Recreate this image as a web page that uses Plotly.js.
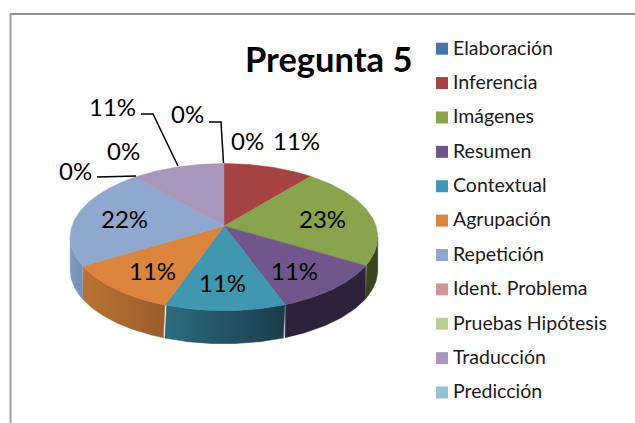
<!DOCTYPE html>
<html><head><meta charset="utf-8">
<script src="https://cdn.plot.ly/plotly-3.0.1.min.js"></script>
<style>html,body{margin:0;padding:0;background:#fff}#c{width:635px;height:423px}</style>
</head><body><div id="c"></div>
<script>
// ---- data ----
const categories = ["Elaboración","Inferencia","Imágenes","Resumen","Contextual","Agrupación","Repetición","Ident. Problema","Pruebas Hipótesis","Traducción","Predicción"];
const values = [0,11,22.5,10.9,11,11,22.3,0,0,11.3,0];
const topColors = ["#4674A8","#A54342","#88A44C","#71568C","#4197AF","#DA843D","#90A7CE","#CF9695","#B9CD96","#A897BA","#92C3D5"];
const sideFrom = ["#2f4d70","#6e2c2b","#37451c","#2d2239","#2d6c80","#ba7332","#8098c0","#8a6463","#7b8964","#706480","#618290"];
const sideTo   = ["#2f4d70","#6e2c2b","#37451c","#2d2239","#1a3c48","#9c5d2b","#788eb3","#8a6463","#7b8964","#706480","#618290"];
// ---- label placement, by category index ----
const labelPos = [[247,140],[296,140],[322,218],[294,270],[222,282],[152,270],[124,218],[75,170],[123,150],[112,106],[187,113]];
// ---- leader lines ----
const leaders = ["M209,122 L221,122 L223.5,163","M141,114 L153,114 L178,166","M97,177 L136,176"];

// ---- perspective disc geometry ----
const apexX=224, apexY=226, A=152, B=71.9, K=0.151, DEPTH=33;
function rim(deg){
  const t=deg*Math.PI/180, u=Math.sin(t), v=Math.cos(t), w=1+K*v;
  return [apexX+A*u/w, apexY-B*v/w];
}
const frontFrom=Math.acos(-K)*180/Math.PI, frontTo=360-frontFrom;
const total=values.reduce((a,b)=>a+b,0);
const traces=[];
let acc=0;
const wedges=values.map((val,i)=>{const s=acc/total*360; acc+=val; return {i,s,e:acc/total*360};}).filter(d=>d.e>d.s);

// side walls
wedges.forEach(d=>{
  const a=Math.max(d.s,frontFrom), b=Math.min(d.e,frontTo);
  if(b<=a) return;
  const xs=[],ys=[];
  for(let g=a;g<=b+1e-6;g+=1){const p=rim(g);xs.push(p[0]);ys.push(p[1]);}
  for(let g=b;g>=a-1e-6;g-=1){const p=rim(g);xs.push(p[0]);ys.push(p[1]+DEPTH);}
  xs.push(xs[0]);ys.push(ys[0]);
  traces.push({type:"scatter",x:xs,y:ys,mode:"lines",fill:"toself",showlegend:false,hoverinfo:"skip",
    line:{width:0.5,color:sideTo[d.i]},
    fillgradient:{type:"horizontal",colorscale:[[0,sideFrom[d.i]],[1,sideTo[d.i]]]}});
});
// top face
wedges.forEach(d=>{
  const xs=[apexX],ys=[apexY];
  for(let g=d.s;g<=d.e+1e-6;g+=1){const p=rim(g);xs.push(p[0]);ys.push(p[1]);}
  const p=rim(d.e);xs.push(p[0],apexX);ys.push(p[1],apexY);
  traces.push({type:"scatter",x:xs,y:ys,mode:"lines",fill:"toself",fillcolor:topColors[d.i],showlegend:false,
    name:categories[d.i],line:{width:0.5,color:topColors[d.i]}});
});
// legend
const legY=categories.map((c,i)=>48.7+i*34.38);
traces.push({type:"scatter",mode:"markers",x:categories.map(()=>442),y:legY,showlegend:false,hoverinfo:"skip",
  marker:{symbol:"square",size:12,color:topColors,line:{width:0}}});
traces.push({type:"scatter",mode:"text",x:categories.map(()=>453),y:legY.map(y=>y+1),text:categories,textposition:"middle right",
  showlegend:false,hoverinfo:"skip",textfont:{family:"Lato",size:19.5,color:"#1a1a1a"}});

const pct=values.map(v=>Math.round(v/total*100)+"%");
const annotations=pct.map((t,i)=>({x:labelPos[i][0],y:labelPos[i][1],text:t,showarrow:false,xanchor:"center",yanchor:"middle",
  font:{family:"Lato",size:24,color:"#000"}}));
annotations.push({x:329,y:58,text:"<b>Pregunta 5</b>",showarrow:false,xanchor:"center",yanchor:"middle",
  font:{family:"Lato",size:34.5,color:"#000"}});

const shapes=leaders.map(p=>({type:"path",path:p,line:{color:"#000",width:1.5}}));
shapes.push({type:"line",x0:10,x1:635,y0:14,y1:14,line:{color:"#8e8e8e",width:2}});
shapes.push({type:"line",x0:10.5,x1:10.5,y0:14,y1:423,line:{color:"#a0a0a0",width:2}});

Plotly.newPlot("c",traces,{
  width:635,height:423,margin:{l:0,r:0,t:0,b:0},paper_bgcolor:"#fff",plot_bgcolor:"#fff",showlegend:false,
  xaxis:{range:[0,635],visible:false,fixedrange:true},
  yaxis:{range:[423,0],visible:false,fixedrange:true},
  annotations,shapes
},{displayModeBar:false,staticPlot:true});
</script></body></html>
